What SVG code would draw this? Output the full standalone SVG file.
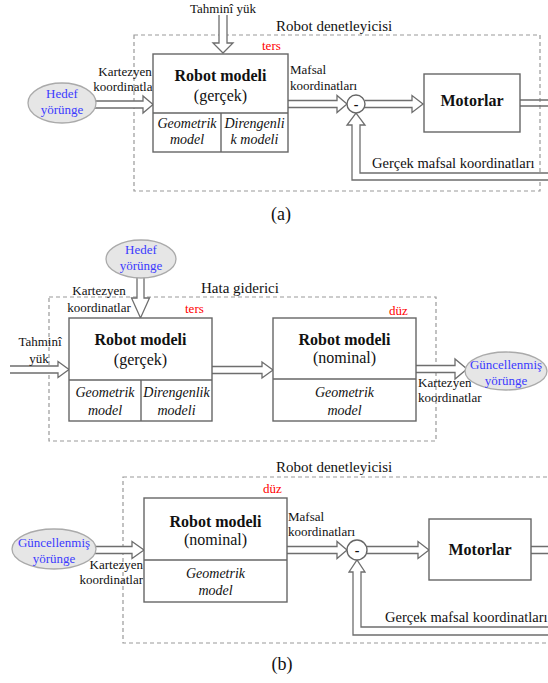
<svg xmlns="http://www.w3.org/2000/svg" width="548" height="683" viewBox="0 0 548 683" font-family="'Liberation Serif', 'Times New Roman', serif">
<style>
text{font-family:"Liberation Serif","Times New Roman",serif;fill:#111}
.lb{font-size:13px}
.tt{font-size:15px}
.gm{font-size:14.5px}
.bd{font-size:16px;font-weight:bold}
.rg{font-size:16px}
.it{font-size:14px;font-style:italic}
.red{font-size:13px;fill:#ff0000}
.blue{font-size:13px;fill:#3b3bff}
.cap{font-size:18px}
.m{text-anchor:middle}
.e{text-anchor:end}
.box{fill:#fff;stroke:#666;stroke-width:1.4}
.sep{stroke:#666;stroke-width:1.4;fill:none}
.dash{fill:none;stroke:#999;stroke-width:1.2;stroke-dasharray:4 3}
.arr{fill:#fff;stroke:#6e6e6e;stroke-width:1.3;stroke-linejoin:miter}
.ln{fill:none;stroke:#6e6e6e;stroke-width:1.3}
.ell{fill:#e6e6e6;stroke:#aaa;stroke-width:1.3}
.circ{fill:#fff;stroke:#666;stroke-width:1.4}
</style>
<rect width="548" height="683" fill="#fff"/>

<!-- containers -->
<g id="containers">
<rect class="dash" x="134" y="35" width="406" height="156"/>
<rect class="dash" x="49" y="297" width="387" height="144"/>
<rect class="dash" x="123" y="477" width="440" height="166"/>
<text class="tt" x="276" y="31">Robot denetleyicisi</text>
<text class="tt" x="201" y="293">Hata giderici</text>
<text class="tt" x="276" y="472">Robot denetleyicisi</text>
</g>

<!-- connectors -->
<g id="connectors">
<path class="arr" d="M219 15 V43 H213 L223 53 L233 43 H227 V15"/>
<path class="arr" d="M90 101 H143 V96 L153 104.5 L143 113 V108 H90"/>
<path class="arr" d="M288 100.5 H337 V95.5 L347 104 L337 112.5 V107.5 H288"/>
<path class="arr" d="M365 100.5 H412 V95.5 L423 104 L412 112.5 V107.5 H365"/>
<path class="ln" d="M520 100 H550 M520 106 H550"/>
<path class="arr" d="M550 173 H360 V125 H365 L356 113 L347 125 H352 V180 H550"/>

<path class="arr" d="M137 270 V298 H131.5 L140.5 318 L149.5 298 H144 V270"/>
<path class="arr" d="M10 366 H58 V361.5 L69 369.5 L58 377.5 V373 H10"/>
<path class="arr" d="M212 366.5 H262 V362 L273 370 L262 378 V373.5 H212"/>
<path class="arr" d="M416 365.5 H455 V359 L467 369 L455 379 V372.5 H416"/>

<path class="arr" d="M90 546.5 H132 V541.5 L144 550 L132 558.5 V553.5 H90"/>
<path class="arr" d="M287 546.5 H337 V541.5 L347 550 L337 558.5 V553.5 H287"/>
<path class="arr" d="M367 546.5 H418 V541.5 L429 550 L418 558.5 V553.5 H367"/>
<path class="ln" d="M531 546.5 H550 M531 553.5 H550"/>
<path class="arr" d="M550 627 H361 V572 H365 L357 560 L349 572 H353 V635 H550"/>

<text class="lb m" x="223" y="13">Tahminî yük</text>
<text class="lb m" x="125" y="76">Kartezyen</text>
<text class="lb m" x="125" y="91">koordinatlar</text>
<text class="lb" x="290" y="74">Mafsal</text>
<text class="lb" x="290" y="90">koordinatları</text>
<text class="gm" x="372" y="168">Gerçek mafsal koordinatları</text>

<text class="lb m" x="99" y="295">Kartezyen</text>
<text class="lb m" x="99" y="312">koordinatlar</text>
<text class="lb m" x="40" y="346">Tahminî</text>
<text class="lb m" x="39" y="363">yük</text>
<text class="lb" x="418" y="387">Kartezyen</text>
<text class="lb" x="418" y="402">koordinatlar</text>

<text class="lb e" x="143" y="569">Kartezyen</text>
<text class="lb e" x="143" y="584">koordinatlar</text>
<text class="lb" x="288" y="521">Mafsal</text>
<text class="lb" x="288" y="536">koordinatları</text>
<text class="gm" x="385" y="622">Gerçek mafsal koordinatları</text>
</g>

<!-- (a) nodes -->
<g id="a-hedef">
<ellipse class="ell" cx="62" cy="103" rx="34" ry="20"/>
<text class="blue m" x="62" y="98">Hedef</text>
<text class="blue m" x="62" y="114">yörünge</text>
</g>
<g id="a-robot-modeli">
<rect class="box" x="153" y="54" width="135" height="98"/>
<path class="sep" d="M153 113 H288 M221 113 V152"/>
<text class="red" x="262" y="50">ters</text>
<text class="bd m" x="220.5" y="81">Robot modeli</text>
<text class="rg m" x="220.5" y="101">(gerçek)</text>
<text class="it m" x="187" y="128">Geometrik</text>
<text class="it m" x="187" y="144">model</text>
<text class="it m" x="254.5" y="128">Direngenli</text>
<text class="it m" x="254.5" y="144">k modeli</text>
</g>
<g id="a-toplam">
<circle class="circ" cx="356" cy="104" r="9"/>
<text class="m" x="356" y="109" style="font-size:14px;font-weight:bold">-</text>
</g>
<g id="a-motorlar">
<rect class="box" x="424" y="74" width="96" height="58"/>
<text class="bd m" x="472" y="106">Motorlar</text>
</g>
<text class="cap m" x="281" y="220">(a)</text>

<!-- (b) upper nodes -->
<g id="b-hedef">
<ellipse class="ell" cx="141" cy="259" rx="35" ry="19"/>
<text class="blue m" x="141" y="254">Hedef</text>
<text class="blue m" x="141" y="270">yörünge</text>
</g>
<g id="b-robot-modeli-gercek">
<rect class="box" x="69" y="318" width="143" height="103"/>
<path class="sep" d="M69 380 H212 M141 380 V421"/>
<text class="red" x="185" y="313">ters</text>
<text class="bd m" x="140.5" y="345">Robot modeli</text>
<text class="rg m" x="140.5" y="365">(gerçek)</text>
<text class="it m" x="105" y="397">Geometrik</text>
<text class="it m" x="105" y="415">model</text>
<text class="it m" x="176.5" y="397">Direngenlik</text>
<text class="it m" x="176.5" y="415">modeli</text>
</g>
<g id="b-robot-modeli-nominal">
<rect class="box" x="273" y="318" width="143" height="103"/>
<path class="sep" d="M273 379 H416"/>
<text class="red" x="389" y="315">düz</text>
<text class="bd m" x="344.5" y="345">Robot modeli</text>
<text class="rg m" x="344.5" y="363">(nominal)</text>
<text class="it m" x="344.5" y="397">Geometrik</text>
<text class="it m" x="344.5" y="415">model</text>
</g>
<g id="b-guncellenmis-1">
<ellipse class="ell" cx="506" cy="371" rx="41" ry="19"/>
<text class="blue m" x="506" y="369">Güncellenmiş</text>
<text class="blue m" x="506" y="385">yörünge</text>
</g>

<!-- (b) lower nodes -->
<g id="b-guncellenmis-2">
<ellipse class="ell" cx="54" cy="549" rx="42" ry="20"/>
<text class="blue m" x="54" y="547">Güncellenmiş</text>
<text class="blue m" x="54" y="563">yörünge</text>
</g>
<g id="b-robot-modeli-nominal-2">
<rect class="box" x="144" y="498" width="143" height="104"/>
<path class="sep" d="M144 560 H287"/>
<text class="red" x="263" y="493">düz</text>
<text class="bd m" x="215.5" y="527">Robot modeli</text>
<text class="rg m" x="215.5" y="545">(nominal)</text>
<text class="it m" x="215.5" y="578">Geometrik</text>
<text class="it m" x="215.5" y="595">model</text>
</g>
<g id="b-toplam">
<circle class="circ" cx="357" cy="550" r="10"/>
<text class="m" x="357" y="555" style="font-size:14px;font-weight:bold">-</text>
</g>
<g id="b-motorlar">
<rect class="box" x="429" y="519" width="102" height="61"/>
<text class="bd m" x="480" y="555">Motorlar</text>
</g>
<text class="cap m" x="282" y="670">(b)</text>
</svg>
